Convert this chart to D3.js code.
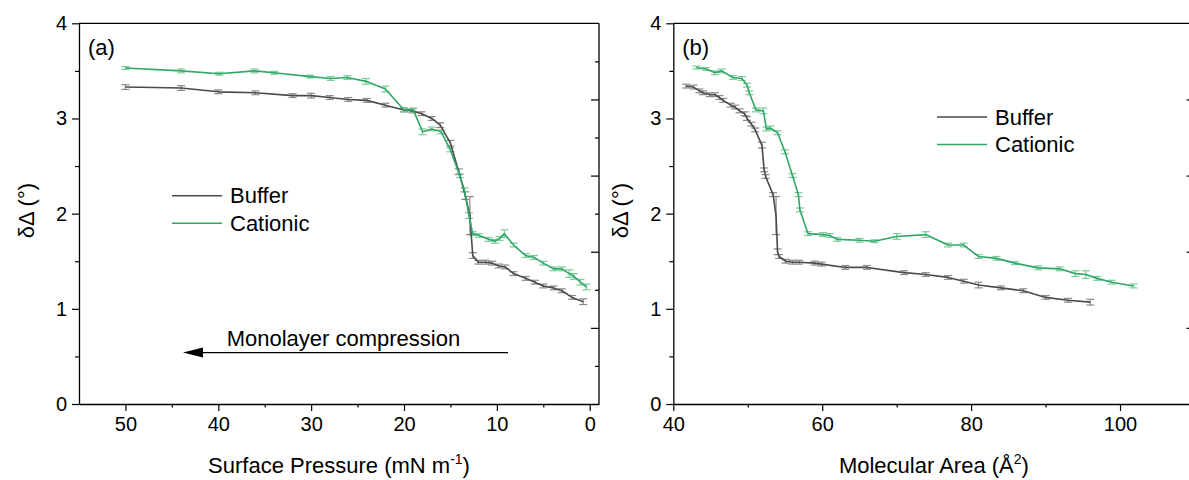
<!DOCTYPE html>
<html><head><meta charset="utf-8">
<script src="https://cdn.jsdelivr.net/npm/d3@7"></script>
<style>
html,body{margin:0;padding:0;background:#fff;}
svg{display:block;font-family:"Liberation Sans",Arial,sans-serif;}
</style></head>
<body><svg id="c" width="1189" height="480"></svg>
<script>
// ---------- data ----------
// Panel (a): delta-Delta vs surface pressure
const pressBufferX = [50, 44, 40, 36, 32, 30, 28, 26, 24, 22, 20, 19.1, 18.1, 17, 16.1, 15, 14.1, 13.4, 12.9, 12.6, 12, 11.2, 10.5, 9.8, 9.1, 8.2, 6.9, 5.9, 5, 3.9, 3, 1.9, 0.7];
const pressBufferY = [3.33, 3.32, 3.28, 3.27, 3.24, 3.24, 3.22, 3.20, 3.19, 3.14, 3.09, 3.08, 3.05, 3.00, 2.93, 2.74, 2.44, 2.19, 1.98, 1.56, 1.49, 1.49, 1.48, 1.45, 1.44, 1.37, 1.32, 1.28, 1.24, 1.22, 1.19, 1.12, 1.075];
const pressBufferErr = [0.025, 0.025, 0.02, 0.02, 0.02, 0.025, 0.02, 0.02, 0.02, 0.02, 0.02, 0.02, 0.02, 0.02, 0.025, 0.03, 0.03, 0.04, 0.2, 0.03, 0.02, 0.02, 0.02, 0.02, 0.02, 0.02, 0.02, 0.02, 0.02, 0.02, 0.02, 0.02, 0.03];

const pressCationicX = [50, 44, 39.9, 36.1, 34, 30.1, 27.9, 26.1, 24.1, 22, 20, 19, 18, 17, 16, 15, 14, 13.5, 13, 12.6, 11.9, 10.9, 10.2, 9.7, 9.2, 8.2, 6.9, 6, 5, 3.9, 3, 2.2, 1.7, 1, 0.35];
const pressCationicY = [3.53, 3.50, 3.47, 3.50, 3.48, 3.44, 3.42, 3.43, 3.39, 3.31, 3.09, 3.09, 2.86, 2.89, 2.86, 2.67, 2.40, 2.25, 1.98, 1.79, 1.77, 1.73, 1.71, 1.74, 1.79, 1.67, 1.56, 1.54, 1.48, 1.42, 1.42, 1.37, 1.34, 1.28, 1.23];
const pressCationicErr = [0.015, 0.02, 0.015, 0.02, 0.015, 0.015, 0.02, 0.02, 0.03, 0.03, 0.02, 0.02, 0.03, 0.02, 0.02, 0.02, 0.02, 0.02, 0.03, 0.02, 0.02, 0.02, 0.02, 0.02, 0.04, 0.02, 0.02, 0.02, 0.02, 0.02, 0.02, 0.04, 0.03, 0.03, 0.03];

// Panel (b): delta-Delta vs molecular area
const areaBufferX = [41.7, 42.7, 43.5, 44.0, 44.9, 45.6, 46.2, 46.7, 47.7, 48.3, 48.9, 49.6, 49.9, 50.5, 51.0, 51.9, 52.2, 52.4, 53.4, 53.8, 54.0, 54.2, 55.1, 56.0, 56.9, 59.0, 59.9, 63.1, 66.0, 71.0, 73.9, 76.9, 79.0, 81.0, 84.0, 87.0, 90.0, 93.0, 96.0];
const areaBufferY = [3.34, 3.33, 3.29, 3.27, 3.25, 3.25, 3.22, 3.19, 3.14, 3.12, 3.08, 3.05, 3.00, 2.94, 2.88, 2.72, 2.46, 2.39, 2.20, 1.98, 1.60, 1.55, 1.50, 1.49, 1.49, 1.48, 1.47, 1.435, 1.435, 1.38, 1.36, 1.33, 1.29, 1.25, 1.22, 1.19, 1.12, 1.09, 1.07];
const areaBufferErr = [0.02, 0.02, 0.02, 0.02, 0.02, 0.02, 0.02, 0.02, 0.02, 0.02, 0.02, 0.02, 0.02, 0.02, 0.02, 0.03, 0.02, 0.02, 0.02, 0.2, 0.03, 0.02, 0.02, 0.02, 0.02, 0.02, 0.02, 0.02, 0.02, 0.02, 0.02, 0.02, 0.02, 0.03, 0.02, 0.02, 0.02, 0.02, 0.03];

const areaCationicX = [43.1, 44.4, 45.6, 46.5, 48.0, 49.2, 49.9, 50.2, 51.1, 52.1, 52.5, 53.0, 54.0, 55.0, 56.0, 56.8, 57.0, 58.1, 60.1, 61.0, 62.0, 65.0, 67.0, 70.0, 73.9, 76.9, 79.0, 81.0, 83.4, 85.9, 89.0, 91.9, 94.0, 95.4, 96.9, 98.9, 101.8];
const areaCationicY = [3.535, 3.52, 3.48, 3.50, 3.43, 3.42, 3.35, 3.27, 3.09, 3.08, 2.89, 2.90, 2.85, 2.65, 2.40, 2.20, 2.04, 1.79, 1.78, 1.77, 1.73, 1.72, 1.71, 1.76, 1.78, 1.67, 1.67, 1.55, 1.53, 1.48, 1.43, 1.42, 1.37, 1.36, 1.32, 1.28, 1.24];
const areaCationicErr = [0.015, 0.015, 0.02, 0.02, 0.02, 0.02, 0.02, 0.02, 0.02, 0.03, 0.02, 0.02, 0.02, 0.02, 0.02, 0.02, 0.02, 0.02, 0.02, 0.02, 0.02, 0.02, 0.015, 0.03, 0.03, 0.02, 0.02, 0.02, 0.02, 0.015, 0.02, 0.02, 0.03, 0.04, 0.02, 0.02, 0.02];

const seriesNames = ["Buffer", "Cationic"];
const yTicks = [0, 1, 2, 3, 4];
const yMinorTicks = [0.5, 1.5, 2.5, 3.5];
const frameTicks = [0.8, 1.6, 2.4, 3.2];
const frameMinorTicks = [0.4, 1.2, 2.0, 2.8, 3.6];
const pressTicks = [50, 40, 30, 20, 10, 0];
const pressMinorTicks = [45, 35, 25, 15, 5];
const areaTicks = [40, 60, 80, 100];
const areaMinorTicks = [50, 70, 90];

// ---------- drawing ----------
const svg = d3.select("#c");
const COL = {line: ["#4b4b4b", "#2fa866"], err: ["#8a8a8a", "#7ccb9c"]};
const FONT = '"Liberation Sans", Arial, sans-serif';

function zip(xs, ys, es){ return xs.map((x,i)=>({x, y:ys[i], e:es[i]})); }

const panels = [
  {x0:79, x1:599, dom:[55,-1], ticks:pressTicks, minor:pressMinorTicks, label:"(a)",
   title:["Surface Pressure (mN m", "-1", ")"],
   series:[zip(pressBufferX,pressBufferY,pressBufferErr), zip(pressCationicX,pressCationicY,pressCationicErr)],
   legend:{x:172, y:195.7}},
  {x0:673.3, x1:1194.5, dom:[40,110], ticks:areaTicks, minor:areaMinorTicks, label:"(b)",
   title:["Molecular Area (Å", "2", ")"],
   series:[zip(areaBufferX,areaBufferY,areaBufferErr), zip(areaCationicX,areaCationicY,areaCationicErr)],
   legend:{x:937, y:117}}
];

const Ytop = 23.3, Ybot = 404;

panels.forEach((p, pi) => {
  const x = d3.scaleLinear().domain(p.dom).range([p.x0, p.x1]);
  const y = d3.scaleLinear().domain([0,4]).range([Ybot, Ytop]);
  const g = svg.append("g");

  // frame top and right
  g.append("line").attr("x1",p.x0).attr("x2",p.x1).attr("y1",Ytop).attr("y2",Ytop).attr("stroke","#000").attr("stroke-width",1.3);
  g.append("line").attr("x1",p.x1).attr("x2",p.x1).attr("y1",Ytop).attr("y2",Ybot).attr("stroke","#000").attr("stroke-width",1.3);

  // right frame ticks (inward)
  const rAx = d3.axisLeft(y).tickValues(frameTicks).tickSize(8).tickSizeOuter(0).tickFormat("");
  g.append("g").attr("transform",`translate(${p.x1},0)`).call(rAx).call(s=>s.select(".domain").remove());
  const rAx2 = d3.axisLeft(y).tickValues(frameMinorTicks).tickSize(4).tickSizeOuter(0).tickFormat("");
  g.append("g").attr("transform",`translate(${p.x1},0)`).call(rAx2).call(s=>s.select(".domain").remove());

  // bottom axis
  const xAx = d3.axisBottom(x).tickValues(p.ticks).tickSize(7).tickSizeOuter(0).tickPadding(6).tickFormat(d3.format("d"));
  const gx = g.append("g").attr("transform",`translate(0,${Ybot})`).call(xAx);
  gx.selectAll("text").attr("font-size",20).attr("font-family",FONT).attr("fill","#000");
  const xAxm = d3.axisBottom(x).tickValues(p.minor).tickSize(3.5).tickSizeOuter(0).tickFormat("");
  g.append("g").attr("transform",`translate(0,${Ybot})`).call(xAxm).call(s=>s.select(".domain").remove());

  // left axis
  const yAx = d3.axisLeft(y).tickValues(yTicks).tickSize(7).tickSizeOuter(0).tickPadding(5).tickFormat(d3.format("d"));
  const gy = g.append("g").attr("transform",`translate(${p.x0},0)`).call(yAx);
  gy.selectAll("text").attr("font-size",20).attr("font-family",FONT).attr("fill","#000");
  const yAxm = d3.axisLeft(y).tickValues(yMinorTicks).tickSize(4).tickSizeOuter(0).tickFormat("");
  g.append("g").attr("transform",`translate(${p.x0},0)`).call(yAxm).call(s=>s.select(".domain").remove());

  g.selectAll(".domain").attr("stroke-width",1.3);
  g.selectAll(".tick line").attr("stroke-width",1.2);

  // error bars
  p.series.forEach((data, si) => {
    const eg = g.append("g").attr("stroke", COL.err[si]).attr("stroke-width",1.2).attr("fill","none");
    data.forEach(d => {
      const cx = x(d.x), yt = y(d.y + d.e), yb = y(d.y - d.e);
      eg.append("line").attr("x1",cx).attr("x2",cx).attr("y1",yt).attr("y2",yb);
      eg.append("line").attr("x1",cx-4).attr("x2",cx+4).attr("y1",yt).attr("y2",yt);
      eg.append("line").attr("x1",cx-4).attr("x2",cx+4).attr("y1",yb).attr("y2",yb);
    });
  });
  // lines
  const line = d3.line().x(d=>x(d.x)).y(d=>y(d.y));
  p.series.forEach((data, si) => {
    g.append("path").datum(data).attr("d",line).attr("fill","none")
      .attr("stroke",COL.line[si]).attr("stroke-width",1.6).attr("stroke-linejoin","round");
  });

  // axis titles
  const t = g.append("text").attr("x",(p.x0+p.x1)/2).attr("y",473).attr("text-anchor","middle")
    .attr("font-size",22).attr("font-family",FONT).attr("fill","#000");
  t.append("tspan").text(p.title[0]);
  t.append("tspan").attr("dy",-9).attr("font-size",14).text(p.title[1]);
  t.append("tspan").attr("dy",9).text(p.title[2]);

  g.append("text").attr("transform",`translate(${p.x0-45},${(Ytop+Ybot)/2-3}) rotate(-90)`)
    .attr("text-anchor","middle").attr("font-size",22).attr("font-family",FONT).attr("fill","#000")
    .text("δΔ (°)");

  // panel label
  g.append("text").attr("x",p.x0+9).attr("y",55).attr("font-size",22).attr("font-family",FONT).attr("fill","#000").text(p.label);

  // legend
  seriesNames.forEach((nm, si) => {
    const ly = p.legend.y + si*27.5;
    g.append("line").attr("x1",p.legend.x).attr("x2",p.legend.x+50).attr("y1",ly).attr("y2",ly)
      .attr("stroke",COL.line[si]).attr("stroke-width",1.6);
    g.append("text").attr("x",p.legend.x+58).attr("y",ly+7.5).attr("font-size",22).attr("font-family",FONT)
      .attr("fill","#000").text(nm);
  });

  if (pi === 0) {
    // compression arrow annotation
    const ay = y(0.54), xa = x(8.8), xb = x(43.8);
    g.append("line").attr("x1",xa).attr("x2",xb+18).attr("y1",ay).attr("y2",ay).attr("stroke","#000").attr("stroke-width",1.3);
    g.append("path").attr("d",`M${xb},${ay} L${xb+20},${ay-5} L${xb+20},${ay+5} Z`).attr("fill","#000");
    g.append("text").attr("x",x(39.1)).attr("y",ay-6.5).attr("font-size",22).attr("font-family",FONT)
      .attr("fill","#000").text("Monolayer compression");
  }
});
</script>
</body></html>
